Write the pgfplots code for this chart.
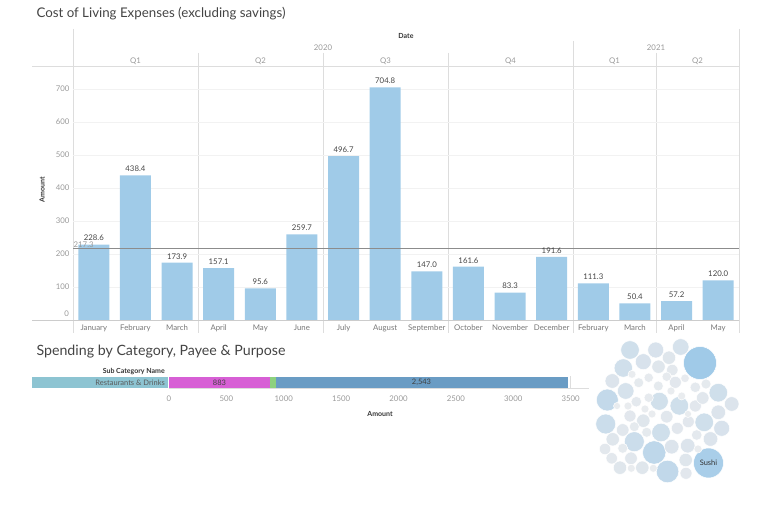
\documentclass[border=0pt]{standalone}
\usepackage{pgfplots}
\pgfplotsset{compat=1.18}
\usepackage{fontspec}
\setmainfont{Lato}

\definecolor{barblue}{HTML}{A0CBE8}
\definecolor{gridc}{HTML}{F2F2F2}
\definecolor{sepc}{HTML}{DDDDDD}
\definecolor{tickc}{HTML}{999999}
\definecolor{labc}{HTML}{777777}
\definecolor{valc}{HTML}{444444}
\definecolor{titc}{HTML}{444444}
\definecolor{magc}{HTML}{D75FD5}
\definecolor{grnc}{HTML}{8DD17E}
\definecolor{bluc}{HTML}{6A9CC4}
\definecolor{tealc}{HTML}{8DC4D2}

\pgfplotstableread{
x y r
700 363 16.5
708.5 463 15
607.3 400 11
605.7 424 10
667.5 471.5 11.3
654.2 452.5 11.7
634.3 441.7 10
661 432.5 9.3
659.3 401.3 9
679.3 405.8 9.3
704.2 422.3 9.3
718.3 392.7 9.3
718.3 412.3 7.3
721.7 428.3 8
710.5 439 7.3
731.7 404 7.3
625.7 391 8.3
623.3 368 9.2
630 350 9.3
655.7 350 8
680.7 347 8.3
643.3 361.7 8
669 357.7 6.7
658.5 366.7 6.7
672.3 370 5.7
612.3 381 7.3
612.7 439.3 6.7
605 449 5.7
611.7 458.3 5.7
620 467.7 6.7
631 458.3 6.3
642.3 467.7 6.7
631.3 468.3 4
671.7 446.7 7.3
687.7 445.7 7.3
685.7 460 6.7
686 473.3 6
695.3 406 6
702.7 398 6.3
675.3 382.3 6
695.3 387.3 5.3
706 384 5
666.7 416.7 6.3
643.3 420.7 6.7
630 416 6
622.7 430 6.3
646.7 432.3 5
677.3 428.3 6
688.3 421.7 6
696.7 435 5.3
636.3 401.7 5.3
648.7 397.7 4.7
638.7 382.7 5
648.7 377.7 4.7
658.3 386 5
666.7 376.7 4.7
685 378.3 4.3
632 374.3 4
622.7 448.3 5
634.3 426.7 5
698 449 4
653.3 468.3 4
681.7 396 4
617 406 3.5
628 406 4
645 409 4
652 414 4
671 391 4
688 414 3.5
}\bubbles

\begin{document}
\begin{tikzpicture}
\useasboundingbox (0,0) rectangle (768pt,505pt);

% header / frame lines
\draw[sepc, line width=0.8pt] (73pt,476pt) -- (73pt,172pt);
\draw[sepc, line width=0.8pt] (739pt,476pt) -- (739pt,172pt);
\draw[sepc, line width=0.8pt] (573pt,464pt) -- (573pt,172pt);
\foreach \xx in {198,323,448,656}{\draw[sepc, line width=0.8pt] (\xx pt,452pt) -- (\xx pt,172pt);}
\draw[sepc, line width=0.8pt] (32pt,439pt) -- (739pt,439pt);

\begin{axis}[
  at={(406pt,312pt)}, anchor=center,
  x=41.625pt, y=0.33pt,
  xmin=-0.5, xmax=15.5, ymin=0, ymax=769.7,
  ybar, bar width=31pt,
  axis line style={draw=none}, major tick length=0pt,
  ytick={100,200,...,700},
  ymajorgrids, grid style={gridc, line width=0.6pt},
  xtick={0,...,15},
  xticklabels={January,February,March,April,May,June,July,August,September,October,November,December,February,March,April,May},
  xticklabel style={font=\fontsize{7.8}{9}\selectfont, text=labc, yshift=-1pt},
  yticklabel style={font=\fontsize{7.8}{9}\selectfont, text=tickc},
  /pgf/number format/assume math mode=true,
  nodes near coords,
  nodes near coords style={font=\fontsize{7.8}{9}\selectfont, text=valc, /pgf/number format/.cd, fixed, fixed zerofill, precision=1, assume math mode=true},
  clip=false,
]
\addplot[fill=barblue, draw=none] coordinates {
(0,228.6) (1,438.4) (2,173.9) (3,157.1) (4,95.6) (5,259.7) (6,496.7) (7,704.8)
(8,147.0) (9,161.6) (10,83.3) (11,191.6) (12,111.3) (13,50.4) (14,57.2) (15,120.0)};
\draw[black!45, line width=0.9pt] (axis cs:-0.5,217.3) -- (axis cs:15.5,217.3);
\node[anchor=south west, inner sep=0.5pt, text=tickc, font=\fontsize{7.8}{9}\selectfont] at (axis cs:-0.5,218) {217.3};
\end{axis}

\draw[black!20, line width=0.8pt] (32pt,185pt) -- (739pt,185pt);
\node[anchor=east, text=tickc, font=\fontsize{7.8}{9}\selectfont, inner sep=0pt] at (69pt,191pt) {0};

% header text
\node[text=titc, font=\fontsize{13.3}{16}\selectfont, anchor=west] at (33pt,491pt) {Cost of Living Expenses (excluding savings)};
\node[text=black!80, font=\bfseries\fontsize{7}{8}\selectfont] at (406pt,469pt) {Date};
\node[text=tickc, font=\fontsize{7.8}{9}\selectfont] at (323pt,457pt) {2020};
\node[text=tickc, font=\fontsize{7.8}{9}\selectfont] at (656pt,457pt) {2021};
\foreach \xx/\qq in {135.5/Q1,260.5/Q2,385.5/Q3,510.5/Q4,614.5/Q1,697.5/Q2}{
  \node[text=tickc, font=\fontsize{7.8}{9}\selectfont] at (\xx pt,444pt) {\qq};}
\node[rotate=90, text=black!80, font=\bfseries\fontsize{7}{8}\selectfont] at (42pt,315pt) {Amount};

% bottom section
\node[text=titc, font=\fontsize{14.2}{17}\selectfont, anchor=west] at (33pt,153pt) {Spending by Category, Payee \& Purpose};
\node[anchor=east, text=black!80, font=\bfseries\fontsize{7}{8}\selectfont, inner sep=0pt] at (165pt,133pt) {Sub Category Name};
\fill[tealc] (32pt,117pt) rectangle (168pt,128pt);
\node[anchor=east, text=black!65, font=\fontsize{7.5}{9}\selectfont, inner sep=0pt] at (165pt,122.5pt) {Restaurants \& Drinks};

\begin{axis}[
  at={(379pt,122.5pt)}, anchor=center,
  x=0.11475pt, y=11pt,
  xmin=0, xmax=3660, ymin=-0.55, ymax=0.55,
  xbar stacked, bar width=11pt,
  axis line style={draw=none}, major tick length=0pt,
  ytick=\empty, xtick={0,500,...,3500},
  xticklabel style={font=\fontsize{7.8}{9}\selectfont, text=tickc, yshift=-4pt},
  /pgf/number format/1000 sep={}, /pgf/number format/assume math mode=true,
  clip=false,
]
\addplot[fill=magc, draw=none] coordinates {(883,0)};
\addplot[fill=grnc, draw=none] coordinates {(47,0)};
\addplot[fill=bluc, draw=none] coordinates {(2543,0)};
\draw[sepc, line width=0.8pt] (axis cs:0,-0.55) -- (axis cs:3660,-0.55);
\draw[sepc, line width=0.6pt] (axis cs:3500,-0.55) -- (axis cs:3500,0.55);
\end{axis}
\node[text=black!75, font=\fontsize{7.5}{9}\selectfont] at (219.5pt,122.5pt) {883};
\node[text=black!75, font=\fontsize{7.5}{9}\selectfont] at (421.5pt,122.5pt) {2,543};
\node[text=black!80, font=\bfseries\fontsize{7}{8}\selectfont] at (380pt,91pt) {Amount};

% bubble chart
\begin{axis}[
  at={(668pt,93pt)}, anchor=center,
  x=1pt, y=1pt, y dir=reverse,
  xmin=590, xmax=746, ymin=334, ymax=490,
  hide axis, clip=false,
  colormap={bub}{rgb255(8pt)=(233,236,239); rgb255(14pt)=(222,229,236); rgb255(20pt)=(203,221,235); rgb255(24pt)=(188,214,234); rgb255(33pt)=(160,202,232)},
  point meta min=4, point meta max=16.5,
]
\addplot[scatter, only marks, mark=*, scatter src=explicit,
  scatter/use mapped color={draw=white, fill=mapped color},
  mark options={line width=0.5pt},
  visualization depends on={\thisrow{r} \as \rad},
  scatter/@pre marker code/.append style={/tikz/mark size=\rad}]
  table[x=x, y=y, meta=r] {\bubbles};
\end{axis}
\node[text=black!80, font=\fontsize{7.5}{9}\selectfont] at (708.5pt,42pt) {Sushi};
\end{tikzpicture}
\end{document}
